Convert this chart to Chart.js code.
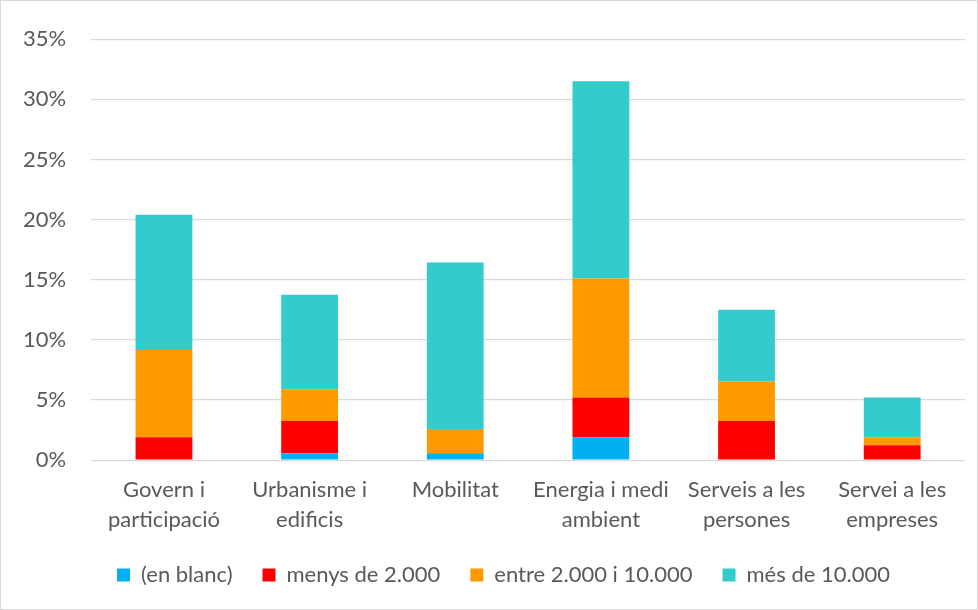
<!DOCTYPE html>
<html>
<head>
<meta charset="utf-8">
<script src="https://cdn.jsdelivr.net/npm/chart.js@4/dist/chart.umd.min.js"></script>
<style>
  html, body { margin: 0; padding: 0; background: #fff; }
  #wrap { position: absolute; left: 0; top: 0; width: 976px; height: 608px; border: 1px solid #d9d9d9; }
</style>
</head>
<body>
<div id="wrap"><canvas id="areesChart" width="976" height="608"></canvas></div>
<script>
const categories = [
  ['Govern i', 'participació'],
  ['Urbanisme i', 'edificis'],
  ['Mobilitat'],
  ['Energia i medi', 'ambient'],
  ['Serveis a les', 'persones'],
  ['Servei a les', 'empreses']
];
const enBlanc = [0, 0.58, 0.58, 1.91, 0, 0];
const menys2000 = [1.91, 2.68, 0, 3.29, 3.26, 1.24];
const entre2000i10000 = [7.24, 2.63, 2.02, 9.9, 3.29, 0.67];
const mesDe10000 = [11.25, 7.87, 13.84, 16.4, 5.95, 3.29];
const yTicks = [0, 5, 10, 15, 20, 25, 30, 35];

const txt = '#595959';
const fontFam = 'Lato, "Open Sans", sans-serif';

const data_areas = {
  labels: categories,
  datasets: [
    { label: '(en blanc)', data: enBlanc, backgroundColor: '#00B0F0' },
    { label: 'menys de 2.000', data: menys2000, backgroundColor: '#FF0000' },
    { label: 'entre 2.000 i 10.000', data: entre2000i10000, backgroundColor: '#FF9900' },
    { label: 'més de 10.000', data: mesDe10000, backgroundColor: '#33CCCC' }
  ]
};
data_areas.datasets.forEach(d => {
  d.barPercentage = 0.78;
  d.categoryPercentage = 0.5;
  d.borderWidth = 0;
});

// legend: less space above the items, and sit a bit right of centre like the original
const LEGEND_LIFT = 8;
const LEGEND_SHIFT = 22;
const legendTight = {
  id: 'legendTight',
  afterInit(chart) {
    const lg = chart.legend;
    const fit = lg.fit, draw = lg.draw;
    lg.fit = function () { fit.call(this); this.height -= LEGEND_LIFT; };
    lg.draw = function () {
      const ctx = this.ctx;
      ctx.save();
      ctx.translate(LEGEND_SHIFT, -LEGEND_LIFT);
      draw.apply(this, arguments);
      ctx.restore();
    };
  }
};

new Chart('areesChart', {
  type: 'bar',
  data: data_areas,
  plugins: [legendTight],
  options: {
    responsive: false,
    animation: false,
    layout: { padding: { left: -3, right: 12, top: 36, bottom: 13 } },
    plugins: {
      tooltip: { enabled: false },
      legend: {
        position: 'bottom',
        labels: {
          color: txt,
          font: { family: fontFam, size: 22 },
          boxWidth: 13,
          boxHeight: 13,
          padding: 30
        }
      }
    },
    scales: {
      x: {
        stacked: true,
        grid: { display: false },
        border: { display: false },
        ticks: { color: txt, font: { family: fontFam, size: 22, lineHeight: 1.36 }, maxRotation: 0, autoSkip: false, padding: 7 }
      },
      y: {
        stacked: true,
        min: 0,
        max: 35,
        afterBuildTicks: axis => { axis.ticks = yTicks.map(v => ({ value: v })); },
        grid: { color: '#d9d9d9', lineWidth: 1.3, drawTicks: false },
        border: { display: false },
        ticks: { color: txt, font: { family: fontFam, size: 22 }, padding: 25, callback: v => v + '%' }
      }
    }
  }
});
</script>
</body>
</html>
